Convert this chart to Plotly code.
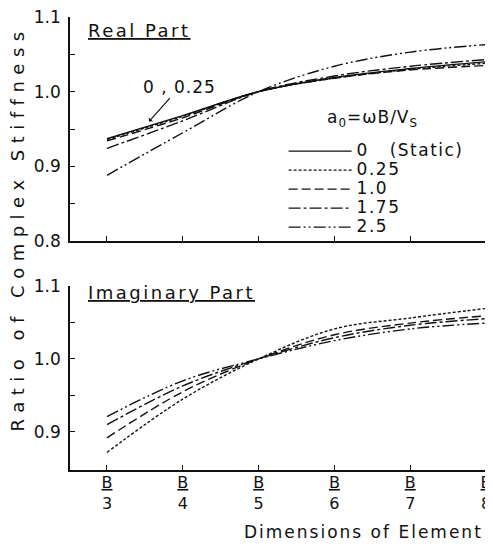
import plotly.graph_objects as go

# ---------------- data ----------------
x_pos = [3, 4, 5, 6, 7, 8]
x_ticktext = ["<u>B</u><br>3", "<u>B</u><br>4", "<u>B</u><br>5",
              "<u>B</u><br>6", "<u>B</u><br>7", "<u>B</u><br>8"]

legend_title = "a<sub>0</sub>=\u03c9B/V<sub>S</sub>"
legend_names = ["0\u00a0\u00a0\u00a0(Static)", "0.25", "1.0", "1.75", "2.5"]

real_0   = [0.937, 0.968, 1.0, 1.019, 1.031, 1.040]
real_025 = [0.936, 0.967, 1.0, 1.018, 1.030, 1.038]
real_10  = [0.934, 0.965, 1.0, 1.018, 1.029, 1.035]
real_175 = [0.924, 0.961, 1.0, 1.021, 1.034, 1.043]
real_25  = [0.888, 0.945, 1.0, 1.034, 1.053, 1.063]

imag_025 = [0.872, 0.945, 1.0, 1.041, 1.056, 1.069]
imag_10  = [0.892, 0.955, 1.0, 1.033, 1.049, 1.059]
imag_175 = [0.910, 0.963, 1.0, 1.029, 1.046, 1.055]
imag_25  = [0.921, 0.970, 1.0, 1.025, 1.041, 1.049]

y_top_ticks = [0.8, 0.9, 1.0, 1.1]
y_top_minor = [0.85, 0.95, 1.05]
y_bot_ticks = [0.9, 1.0, 1.1]
y_bot_minor = [0.95, 1.05]

# ---------------- styles ----------------
FONT = "DejaVu Sans"
INK = "#111111"
dashes = ["solid", "3px,2px", "9px,4px", "12px,3px,3px,3px", "12px,3px,2px,3px,2px,3px"]
LW = 1.4

real_series = [real_0, real_025, real_10, real_175, real_25]
imag_series = [None, imag_025, imag_10, imag_175, imag_25]

fig = go.Figure()
for i, (nm, ys) in enumerate(zip(legend_names, real_series)):
    fig.add_trace(go.Scatter(
        x=x_pos, y=ys, mode="lines", xaxis="x", yaxis="y",
        name='<span style="font-size:17px;letter-spacing:1.5px">' + nm + "</span>",
        legendgroup=str(i), showlegend=True,
        line=dict(color=INK, width=LW, dash=dashes[i], shape="spline"),
    ))
for i, ys in enumerate(imag_series):
    if ys is None:
        continue
    fig.add_trace(go.Scatter(
        x=x_pos, y=ys, mode="lines", xaxis="x2", yaxis="y2",
        legendgroup=str(i), showlegend=False,
        line=dict(color=INK, width=LW, dash=dashes[i], shape="spline"),
    ))

axis_common = dict(showline=True, linecolor=INK, linewidth=1.5, showgrid=False,
                   zeroline=False, ticks="inside", ticklen=5, tickwidth=1.2,
                   tickcolor=INK, mirror=False, automargin=False,
                   ticklabeloverflow="allow")
minor_style = dict(ticks="inside", ticklen=5, tickwidth=1.2, tickcolor=INK, showgrid=False)

XR = [2.512, 8.026]
# the page body adds an 8px offset, so the figure is 8px smaller on each axis
fig.update_layout(
    width=485, height=540,
    margin=dict(l=62, r=5, t=9, b=78),
    paper_bgcolor="white", plot_bgcolor="white",
    font=dict(family=FONT, color=INK, size=17),
    xaxis=dict(domain=[0, 1], range=XR, anchor="y", tickvals=x_pos,
               showticklabels=False, **axis_common),
    yaxis=dict(domain=[0.5055, 1], range=[0.8, 1.1], anchor="x",
               tickvals=y_top_ticks, ticktext=["0.8", "0.9", "1.0", "1.1"],
               ticklabelstandoff=4, tickfont=dict(size=17),
               minor=dict(tickvals=y_top_minor, **minor_style), **axis_common),
    xaxis2=dict(domain=[0, 1], range=XR, anchor="y2", tickvals=x_pos,
                ticktext=x_ticktext, tickfont=dict(size=16),
                ticklabelstandoff=-3, **axis_common),
    yaxis2=dict(domain=[0, 0.4066], range=[0.848, 1.1], anchor="x2",
                tickvals=y_bot_ticks, ticktext=["0.9", "1.0", "1.1"],
                ticklabelstandoff=4, tickfont=dict(size=17),
                minor=dict(tickvals=y_bot_minor, **minor_style), **axis_common),
    showlegend=True,
    legend=dict(
        x=0.511, y=0.736, xanchor="left", yanchor="top",
        bgcolor="rgba(0,0,0,0)", borderwidth=0,
        font=dict(size=12, family=FONT, color=INK),
        itemwidth=63, tracegroupgap=0,
    ),
)

annotations = [
    dict(text='<span style="letter-spacing:1px">' + legend_title + '</span>',
         xref="paper", yref="paper", x=0.724, y=0.775, showarrow=False,
         font=dict(size=17), xanchor="center", yanchor="middle"),
    dict(text='<span style="letter-spacing:6.5px">Ratio of Complex Stiffness</span>',
         xref="paper", yref="paper", x=-0.126, y=0.534, textangle=-90,
         showarrow=False, font=dict(size=18), xanchor="center", yanchor="middle"),
    dict(text='<span style="letter-spacing:2px">Dimensions of Element</span>',
         xref="paper", yref="paper", x=0.703, y=-0.136, showarrow=False,
         font=dict(size=17), xanchor="center", yanchor="middle"),
    dict(text='<span style="letter-spacing:2.5px"><u>Real Part</u></span>',
         xref="paper", yref="paper", x=0.039, y=0.970, showarrow=False,
         font=dict(size=18), xanchor="left", yanchor="middle"),
    dict(text='<span style="letter-spacing:2.5px"><u>Imaginary Part</u></span>',
         xref="paper", yref="paper", x=0.039, y=0.392, showarrow=False,
         font=dict(size=18), xanchor="left", yanchor="middle"),
    dict(text='<span style="letter-spacing:1px">0 , 0.25</span>',
         xref="x", yref="y", x=3.554, y=0.960, ax=31, ay=-35,
         showarrow=True, arrowhead=1, arrowsize=0.8, arrowwidth=1.2,
         arrowcolor=INK, font=dict(size=17)),
]
fig.update_layout(annotations=annotations)

fig.write_html("out.html")
